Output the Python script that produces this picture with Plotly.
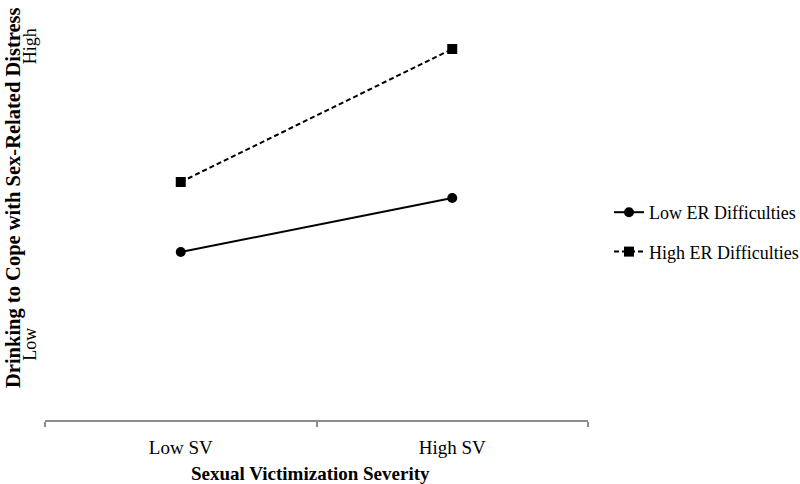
import plotly.graph_objects as go

categories = ["Low SV", "High SV"]
low_er = [1.68, 2.22]
high_er = [2.38, 3.71]
y_tick_vals = [0.73, 3.71]
y_tick_text = ["Low", "High"]

FONT = "Liberation Serif"

fig = go.Figure()
fig.add_trace(go.Scatter(
    x=categories, y=low_er, name="Low ER Difficulties", mode="lines+markers",
    line=dict(color="black", width=2),
    marker=dict(symbol="circle", size=10, color="black"),
    legendgroup="a",
))
fig.add_trace(go.Scatter(
    x=categories, y=high_er, name="High ER Difficulties", mode="lines+markers",
    line=dict(color="black", width=2, dash="5px,3px"),
    marker=dict(symbol="square", size=10, color="black"),
    legendgroup="b",
))

fig.update_layout(
    width=800, height=484, autosize=False,
    margin=dict(l=45, r=212, t=10, b=64, autoexpand=False),
    paper_bgcolor="white", plot_bgcolor="white",
    font=dict(family=FONT, size=18, color="black"),
    showlegend=True,
    legend=dict(
        x=(609 - 45) / 543, y=(420 - 232) / 410, xanchor="left", yanchor="middle",
        font=dict(family=FONT, size=18, color="black"),
        traceorder="grouped", tracegroupgap=13,
        bgcolor="rgba(0,0,0,0)",
    ),
    xaxis=dict(
        type="category", range=[-0.5, 1.5], automargin=False,
        showline=True, linecolor="#8c8c8c", linewidth=1.5,
        ticks="outside", tickson="boundaries", ticklen=5, tickcolor="#8c8c8c",
        tickwidth=1.5, showgrid=False, zeroline=False, ticklabelstandoff=9,
        tickfont=dict(family=FONT, size=19, color="black"),
    ),
    yaxis=dict(
        range=[0, 4.1], automargin=False, showline=False, showgrid=False, zeroline=False,
        tickmode="array", tickvals=y_tick_vals, ticktext=y_tick_text,
        tickangle=-90, ticks="", ticklabelstandoff=4,
        tickfont=dict(family=FONT, size=18, color="black"),
    ),
    annotations=[
        dict(text="<b>Drinking to Cope with Sex-Related Distress</b>",
             xref="paper", yref="paper", x=(14 - 45) / 543, y=(420 - 198) / 410,
             xanchor="center", yanchor="middle", textangle=-90, showarrow=False,
             font=dict(family=FONT, size=20.5, color="black")),
        dict(text="<b>Sexual Victimization Severity</b>",
             xref="paper", yref="paper", x=(310 - 45) / 543, y=(420 - 473) / 410,
             xanchor="center", yanchor="middle", showarrow=False,
             font=dict(family=FONT, size=19, color="black")),
    ],
)

fig.write_html("out.html", config={"displayModeBar": False},
               post_script="document.body.style.margin='0px';")
